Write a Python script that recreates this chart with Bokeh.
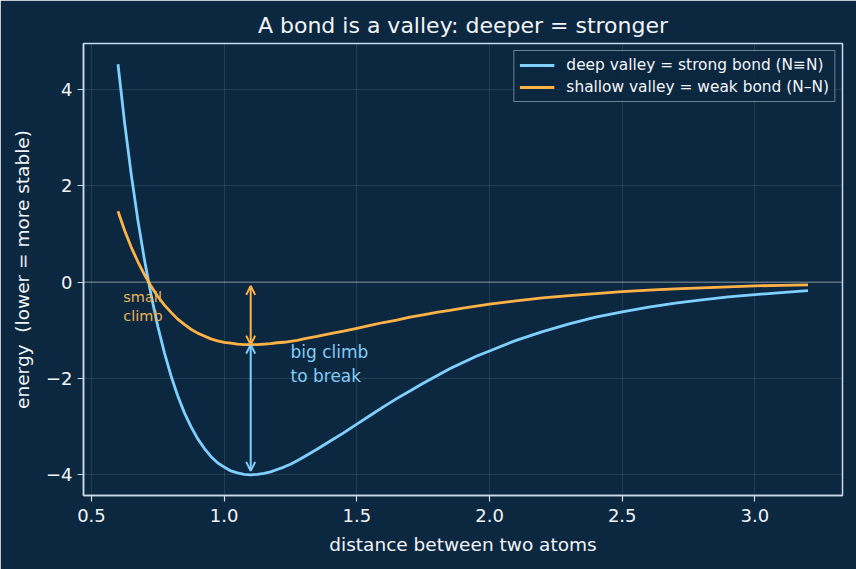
from bokeh.plotting import figure
from bokeh.models import (Range1d, FixedTicker, CustomJSTickFormatter, PrintfTickFormatter,
                          Span, Arrow, OpenHead, Legend, LegendItem)
from bokeh.embed import file_html
from bokeh.resources import INLINE
from bokeh.core.properties import value

# ---- data ----
distance = [0.600, 0.625, 0.650, 0.675, 0.700, 0.725, 0.750, 0.775, 0.800, 0.825, 0.850, 0.875,
            0.900, 0.925, 0.950, 0.975, 1.000, 1.025, 1.050, 1.075, 1.100, 1.125, 1.150, 1.175,
            1.200, 1.225, 1.250, 1.275, 1.300, 1.35, 1.40, 1.45, 1.50, 1.55, 1.60, 1.65, 1.70,
            1.75, 1.80, 1.85, 1.90, 1.95, 2.00, 2.1, 2.2, 2.3, 2.4, 2.5, 2.6, 2.7, 2.8, 2.9,
            3.0, 3.1, 3.2]
deep_energy = [4.52, 3.30, 2.23, 1.28, 0.45, -0.28, -0.92, -1.47, -1.95, -2.36, -2.71, -3.00,
               -3.25, -3.45, -3.62, -3.75, -3.84, -3.92, -3.96, -3.99, -4.00, -3.99, -3.97, -3.94,
               -3.89, -3.84, -3.78, -3.71, -3.63, -3.47, -3.30, -3.13, -2.95, -2.77, -2.59, -2.42,
               -2.26, -2.10, -1.95, -1.80, -1.67, -1.54, -1.43, -1.21, -1.03, -0.87, -0.73, -0.62,
               -0.52, -0.44, -0.37, -0.31, -0.26, -0.22, -0.18]
shallow_energy = [1.47, 1.07, 0.72, 0.42, 0.15, -0.09, -0.30, -0.48, -0.63, -0.77, -0.88, -0.98,
                  -1.06, -1.12, -1.18, -1.22, -1.25, -1.27, -1.29, -1.30, -1.30, -1.30, -1.29, -1.28,
                  -1.26, -1.25, -1.23, -1.21, -1.18, -1.13, -1.07, -1.02, -0.96, -0.90, -0.84, -0.79,
                  -0.73, -0.68, -0.63, -0.59, -0.54, -0.50, -0.46, -0.39, -0.33, -0.28, -0.24, -0.20,
                  -0.17, -0.14, -0.12, -0.10, -0.08, -0.07, -0.06]
series_labels = ["deep valley = strong bond (N\u2261N)", "shallow valley = weak bond (N\u2013N)"]
x_ticks = [0.5, 1.0, 1.5, 2.0, 2.5, 3.0]
y_ticks = [-4, -2, 0, 2, 4]
bond_length = 1.1
note_small = "small\nclimb"
note_big = "big climb\nto break"
note_small_pos = (0.62, -0.15)
note_big_pos = (1.25, -1.25)

# ---- styles ----
BG = "#0c2740"
FRAME = "#c9d9e8"
BLUE = "#7fd0ff"
ORANGE = "#ffb347"
TXT = "#f2f5f8"
FONT = "DejaVu Sans"

p = figure(width=856, height=569, output_backend="svg", toolbar_location=None,
           x_range=Range1d(0.47, 3.33), y_range=Range1d(-4.43, 4.95),
           min_border_left=83, min_border_right=14, min_border_top=43, min_border_bottom=74,
           background_fill_color=BG, border_fill_color=BG)

p.outline_line_color = FRAME
p.outline_line_width = 1.5

p.title.text = "A bond is a valley: deeper = stronger"
p.title.text_font = FONT
p.title.text_font_size = "22px"
p.title.text_font_style = "normal"
p.title.text_color = TXT
p.title.align = "center"
p.title.standoff = 12

p.xaxis.ticker = FixedTicker(ticks=x_ticks)
p.xaxis.formatter = PrintfTickFormatter(format="%.1f")
p.yaxis.ticker = FixedTicker(ticks=y_ticks)
p.yaxis.formatter = CustomJSTickFormatter(code='return tick < 0 ? "\u2212" + Math.abs(tick) : String(tick);')
p.xaxis.axis_label = "distance between two atoms"
p.yaxis.axis_label = "energy\u00a0 (lower = more stable)"
for ax in (p.xaxis, p.yaxis):
    ax.axis_line_color = FRAME
    ax.axis_line_width = 1.5
    ax.major_tick_line_color = FRAME
    ax.major_tick_line_width = 1.2
    ax.major_tick_out = 6
    ax.major_tick_in = 0
    ax.minor_tick_line_color = None
    ax.major_label_text_color = TXT
    ax.major_label_text_font = FONT
    ax.major_label_text_font_size = "18px"
    ax.axis_label_text_color = TXT
    ax.axis_label_text_font = FONT
    ax.axis_label_text_font_size = "18.5px"
    ax.axis_label_text_font_style = "normal"
p.xaxis.major_label_standoff = 7
p.xaxis.axis_label_standoff = 9
p.yaxis.major_label_standoff = 5
p.yaxis.axis_label_standoff = 10

p.grid.grid_line_color = "#ffffff"
p.grid.grid_line_alpha = 0.1
p.grid.grid_line_width = 1

p.add_layout(Span(location=0, dimension="width", line_color="#ffffff", line_alpha=0.35, line_width=1.3))

l_deep = p.line(distance, deep_energy, line_color=BLUE, line_width=2.8, line_join="round")
l_shallow = p.line(distance, shallow_energy, line_color=ORANGE, line_width=2.8, line_join="round")

shrink = 0.08
deep_min = min(deep_energy)
shallow_min = min(shallow_energy)
p.add_layout(Arrow(x_start=bond_length, y_start=shallow_min, x_end=bond_length, y_end=deep_min + shrink,
                   line_color=BLUE, line_width=2,
                   start=OpenHead(size=9, line_color=BLUE, line_width=2),
                   end=OpenHead(size=9, line_color=BLUE, line_width=2)))
p.add_layout(Arrow(x_start=bond_length, y_start=0 - shrink, x_end=bond_length, y_end=shallow_min,
                   line_color=ORANGE, line_width=2,
                   start=OpenHead(size=9, line_color=ORANGE, line_width=2),
                   end=OpenHead(size=9, line_color=ORANGE, line_width=2)))

p.text(x=[note_small_pos[0]], y=[note_small_pos[1]], text=[note_small], text_color="#e8b45a",
       text_font=value(FONT), text_font_size="14.5px", text_baseline="top", text_align="left",
       text_line_height=1.2)
p.text(x=[note_big_pos[0]], y=[note_big_pos[1]], text=[note_big], text_color="#82cdf5",
       text_font=value(FONT), text_font_size="17px", text_baseline="top", text_align="left",
       text_line_height=1.2)

legend = Legend(items=[LegendItem(label=series_labels[0], renderers=[l_deep]),
                       LegendItem(label=series_labels[1], renderers=[l_shallow])],
                location="top_right")
legend.margin = 7
legend.padding = 5
legend.spacing = 4
legend.glyph_width = 35
legend.glyph_height = 18
legend.label_height = 18
legend.label_standoff = 12
legend.label_text_font = FONT
legend.label_text_font_size = "15.4px"
legend.label_text_color = TXT
legend.label_text_baseline = "middle"
legend.background_fill_color = BG
legend.background_fill_alpha = 0.85
legend.border_line_color = FRAME
legend.border_line_width = 1.2
p.add_layout(legend)

open("out.html", "w").write(file_html(p, INLINE))
